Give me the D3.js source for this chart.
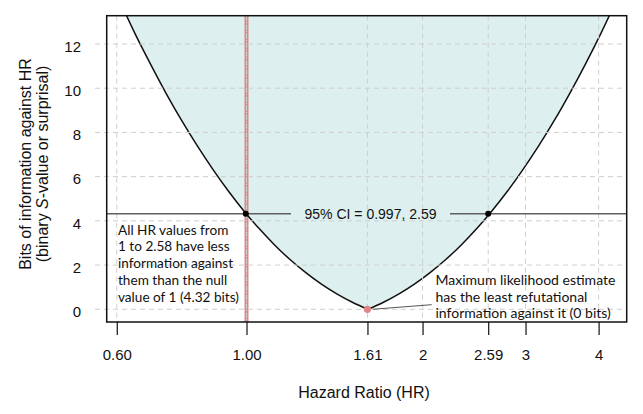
<!DOCTYPE html>
<html><head><meta charset="utf-8">
<script src="https://cdn.jsdelivr.net/npm/d3@7/dist/d3.min.js"></script>
<style>body{margin:0;background:#fff}svg{display:block}</style>
</head><body>
<svg id="c" width="643" height="414"></svg>
<script>
// Curve: hazard ratio vs binary S-value (bits)
const hrValues = [0.607, 0.645, 0.686, 0.729, 0.775, 0.824, 0.876, 0.931, 0.989, 1.052, 1.118, 1.188, 1.263, 1.343, 1.427, 1.517,
                  1.613, 1.715, 1.823, 1.937, 2.060, 2.189, 2.327, 2.474, 2.630, 2.795, 2.971, 3.159, 3.358, 3.569, 3.794, 4.033, 4.287];
const sValues  = [13.95, 12.46, 11.07, 9.76, 8.53, 7.39, 6.33, 5.35, 4.46, 3.64, 2.90, 2.24, 1.66, 1.14, 0.70, 0.32,
                  0, 0.32, 0.70, 1.14, 1.66, 2.24, 2.90, 3.64, 4.46, 5.35, 6.33, 7.39, 8.53, 9.76, 11.07, 12.46, 13.95];
const xTickValues = [0.6, 1, 1.61, 2, 2.59, 3, 4];
const xTickLabels = ["0.60", "1.00", "1.61", "2", "2.59", "3", "4"];
const yTickValues = [0, 2, 4, 6, 8, 10, 12];
const nullHR = 1;
const ciBounds = [0.997, 2.59];
const ciS = 4.32;
const mle = [1.61, 0];
const ciLabel = "95% CI = 0.997, 2.59";
const leftNote = ["All HR values from", "1 to 2.58 have less", "information against", "them than the null", "value of 1 (4.32 bits)"];
const rightNote = ["Maximum likelihood estimate", "has the least refutational", "information against it (0 bits)"];

const L = 106.7, R = 626.7, T = 15.7, B = 322;
const svg = d3.select("#c");
const x = d3.scaleLog().domain([0.5767, 4.468]).range([L, R]);
const y = d3.scaleLinear().domain([-0.575, 13.28]).range([B, T]);

const pts = hrValues.map((h, i) => ({h, s: sValues[i]}));
const minIdx = sValues.indexOf(d3.min(sValues));
const leftBranch = pts.slice(0, minIdx + 1), rightBranch = pts.slice(minIdx);

svg.append("defs").append("clipPath").attr("id", "clip")
  .append("rect").attr("x", L).attr("y", T).attr("width", R - L).attr("height", B - T);
const g = svg.append("g").attr("clip-path", "url(#clip)");

// fill above curve
const area = d3.area().x(d => x(d.h)).y0(T).y1(d => y(d.s)).curve(d3.curveMonotoneX);
g.append("path").datum(leftBranch).attr("d", area).attr("fill", "#ddefee");
g.append("path").datum(rightBranch).attr("d", area).attr("fill", "#ddefee");

// grid
const gridG = svg.append("g").attr("stroke", "#cfcfcf").attr("stroke-width", 1).attr("stroke-dasharray", "5,4");
gridG.selectAll(".gy").data(yTickValues).join("line")
  .attr("x1", 95).attr("x2", R).attr("y1", d => y(d)).attr("y2", d => y(d));
gridG.selectAll(".gx").data(xTickValues).join("line")
  .attr("x1", d => x(d)).attr("x2", d => x(d)).attr("y1", T).attr("y2", B);

// null line
g.append("line").attr("x1", x(nullHR)).attr("x2", x(nullHR)).attr("y1", T).attr("y2", B)
  .attr("stroke", "#d58a8a").attr("stroke-width", 4);
g.append("line").attr("x1", x(nullHR)).attr("x2", x(nullHR)).attr("y1", T).attr("y2", B)
  .attr("stroke", "#ebc0c0").attr("stroke-width", 1.2).attr("stroke-dasharray", "1.5,1.5");

// CI horizontal line with gap for label
svg.append("line").attr("x1", L).attr("x2", 291).attr("y1", y(ciS)).attr("y2", y(ciS))
  .attr("stroke", "#606060").attr("stroke-width", 1.5);
svg.append("line").attr("x1", 450).attr("x2", R).attr("y1", y(ciS)).attr("y2", y(ciS))
  .attr("stroke", "#606060").attr("stroke-width", 1.5);
svg.append("text").attr("x", 370.5).attr("y", y(ciS)).attr("dy", "0.35em").attr("text-anchor", "middle")
  .attr("font-family", "Liberation Sans, Arial, sans-serif").attr("font-size", 14).attr("fill", "#111").text(ciLabel);

// curve
const line = d3.line().x(d => x(d.h)).y(d => y(d.s)).curve(d3.curveMonotoneX);
g.append("path").datum(leftBranch).attr("d", line).attr("fill", "none").attr("stroke", "#111").attr("stroke-width", 1.5);
g.append("path").datum(rightBranch).attr("d", line).attr("fill", "none").attr("stroke", "#111").attr("stroke-width", 1.5);

// CI dots
svg.selectAll(".ci").data(ciBounds).join("circle")
  .attr("cx", d => x(d)).attr("cy", y(ciS)).attr("r", 3).attr("fill", "#000");

// leader line + MLE dot
svg.append("line").attr("x1", x(mle[0]) + 5).attr("y1", y(mle[1])).attr("x2", 431.7).attr("y2", 304.7)
  .attr("stroke", "#555").attr("stroke-width", 1);
svg.append("circle").attr("cx", x(mle[0])).attr("cy", y(mle[1])).attr("r", 3.6).attr("fill", "#e08585");

// notes
const noteFont = "Lato, 'Open Sans', sans-serif";
svg.append("text").attr("font-family", noteFont).attr("font-size", 13.6).attr("fill", "#111")
  .selectAll("tspan").data(leftNote).join("tspan")
  .attr("x", 118).attr("y", (d, i) => 234.5 + i * 16.9).text(d => d);
svg.append("text").attr("font-family", noteFont).attr("font-size", 14).attr("fill", "#111")
  .selectAll("tspan").data(rightNote).join("tspan")
  .attr("x", 435.5).attr("y", (d, i) => 285 + i * 16.7).text(d => d);

// box
svg.append("rect").attr("x", L).attr("y", T).attr("width", R - L).attr("height", B - T)
  .attr("fill", "none").attr("stroke", "#111").attr("stroke-width", 1.5);

// x axis
const xAxis = svg.append("g").attr("transform", `translate(0,${B})`)
  .call(d3.axisBottom(x).tickValues(xTickValues).tickFormat((d, i) => xTickLabels[i]).tickSize(13).tickPadding(14));
xAxis.select(".domain").remove();
xAxis.selectAll("line").attr("stroke", "#111").attr("stroke-width", 1.2);
xAxis.selectAll("text").attr("font-family", "Liberation Sans, Arial, sans-serif").attr("font-size", 15).attr("fill", "#111");

// y axis labels
svg.append("g").selectAll("text").data(yTickValues).join("text")
  .attr("x", 81).attr("y", d => y(d) + 2.5).attr("dy", "0.35em").attr("text-anchor", "end")
  .attr("font-family", "Liberation Sans, Arial, sans-serif").attr("font-size", 15).attr("fill", "#111").text(d => d);

// titles
svg.append("text").attr("x", 364).attr("y", 392).attr("dy", "0.35em").attr("text-anchor", "middle")
  .attr("font-family", "Liberation Sans, Arial, sans-serif").attr("font-size", 16).attr("fill", "#111").text("Hazard Ratio (HR)");
const yt = svg.append("text").attr("transform", "translate(25,164) rotate(-90)").attr("text-anchor", "middle")
  .attr("font-family", "Liberation Sans, Arial, sans-serif").attr("font-size", 16).attr("fill", "#111");
yt.append("tspan").attr("x", 0).attr("y", 0).attr("dy", "0.35em").text("Bits of information against HR");
const t2 = yt.append("tspan").attr("x", 0).attr("y", 17.5).attr("dy", "0.35em");
t2.append("tspan").text("(binary ");
t2.append("tspan").attr("font-style", "italic").text("S");
t2.append("tspan").text("-value or surprisal)");
</script>
</body></html>
